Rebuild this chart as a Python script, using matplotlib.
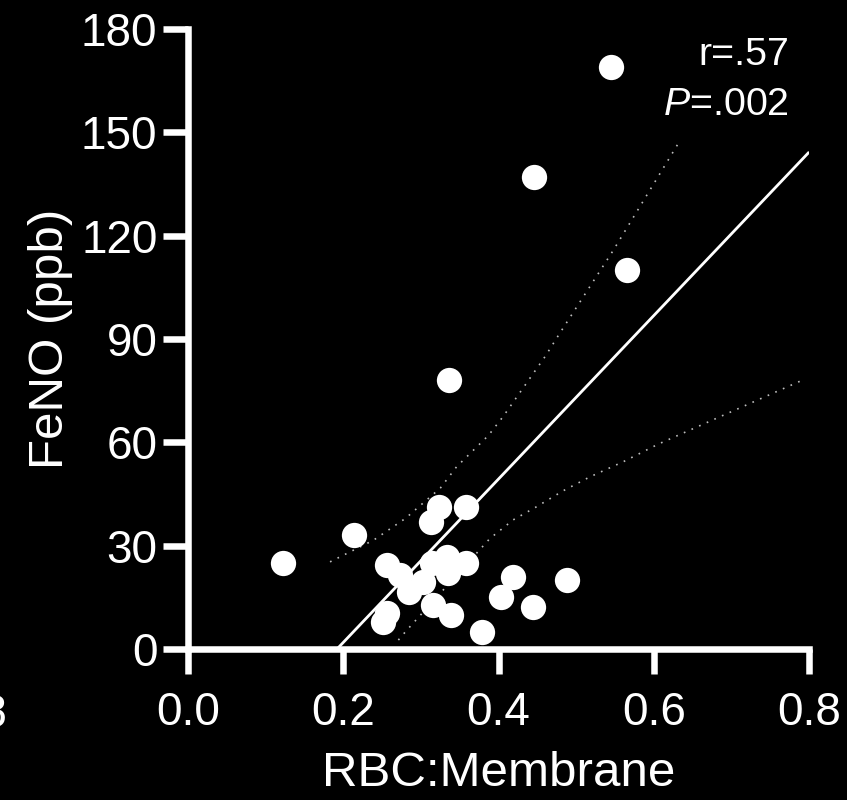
import matplotlib
matplotlib.use('Agg')
import matplotlib.pyplot as plt

plt.rcParams['font.family'] = ['Liberation Sans', 'DejaVu Sans']
plt.rcParams['mathtext.fontset'] = 'custom'
plt.rcParams['mathtext.rm'] = 'Liberation Sans'
plt.rcParams['mathtext.it'] = 'Liberation Sans:italic'

# data
rbc_membrane = [0.122, 0.214, 0.256, 0.273, 0.285, 0.303, 0.314, 0.334, 0.335,
                0.358, 0.256, 0.251, 0.316, 0.339, 0.379, 0.403, 0.419, 0.444,
                0.488, 0.323, 0.313, 0.358, 0.336, 0.446, 0.545, 0.566]
feno = [25.0, 33.1, 24.4, 21.5, 16.5, 19.5, 25.0, 26.7, 22.1,
        25.0, 10.5, 7.8, 12.8, 9.9, 4.9, 15.1, 20.9, 12.2,
        20.0, 41.2, 36.9, 41.2, 78.1, 137.1, 169.1, 110.0]

fit_x = [0.192, 0.799]
fit_y = [0.0, 144.0]

upper_x = [0.183, 0.239, 0.280, 0.325, 0.346, 0.387, 0.406, 0.460, 0.479, 0.548, 0.633]
upper_y = [25.3, 31.6, 37.9, 46.7, 52.9, 62.0, 67.5, 84.9, 91.7, 115.8, 147.3]
lower_x = [0.271, 0.282, 0.389, 0.419, 0.449, 0.483, 0.518, 0.561, 0.606, 0.792]
lower_y = [2.6, 5.5, 32.1, 37.5, 41.3, 45.9, 50.0, 54.4, 59.5, 78.1]

x_ticks = [0.0, 0.2, 0.4, 0.6, 0.8]
x_labels = ['0.0', '0.2', '0.4', '0.6', '0.8']
y_ticks = [0, 30, 60, 90, 120, 150, 180]

fig = plt.figure(figsize=(8.47, 8.0), dpi=100, facecolor='black')
ax = fig.add_axes([188 / 847, 151 / 800, 621 / 847, 620 / 800])
ax.set_facecolor('black')

ax.plot(upper_x, upper_y, color='#bdbdbd', lw=1.2, ls=(0, (1, 4)), zorder=1)
ax.plot(lower_x, lower_y, color='#bdbdbd', lw=1.2, ls=(0, (1, 4)), zorder=1)
ax.plot(fit_x, fit_y, color='white', lw=2.0, zorder=2)
ax.plot(rbc_membrane, feno, 'o', color='white', ms=18.2, mew=0, zorder=3, clip_on=False)

ax.set_xlim(0, 0.8)
ax.set_ylim(0, 180)
ax.set_xticks(x_ticks)
ax.set_xticklabels(x_labels)
ax.set_yticks(y_ticks)

for s in ['top', 'right']:
    ax.spines[s].set_visible(False)
for s in ['left', 'bottom']:
    ax.spines[s].set_color('white')
    ax.spines[s].set_linewidth(4.7)
    ax.spines[s].set_capstyle('projecting')

ax.tick_params(axis='both', colors='white', direction='out', length=18, width=4.7,
               labelsize=33)
ax.tick_params(axis='x', pad=12)
ax.tick_params(axis='y', pad=4)

ax.set_xlabel('RBC:Membrane', color='white', fontsize=35.5, labelpad=12)
ax.set_ylabel('FeNO (ppb)', color='white', fontsize=35.5, labelpad=6)

fig.text(789 / 847, (800 - 65) / 800, 'r=.57', color='white', fontsize=28.4,
         ha='right', va='baseline')
fig.text(789 / 847, (800 - 115) / 800, '$\\mathit{P}$=.002', color='white',
         fontsize=28.4, ha='right', va='baseline')

# cut-off tick label from the neighbouring panel
fig.text(7 / 847, (800 - 727) / 800, '0.8', color='white', fontsize=33,
         ha='right', va='baseline')

fig.savefig('out.png', dpi=100, facecolor='black')
